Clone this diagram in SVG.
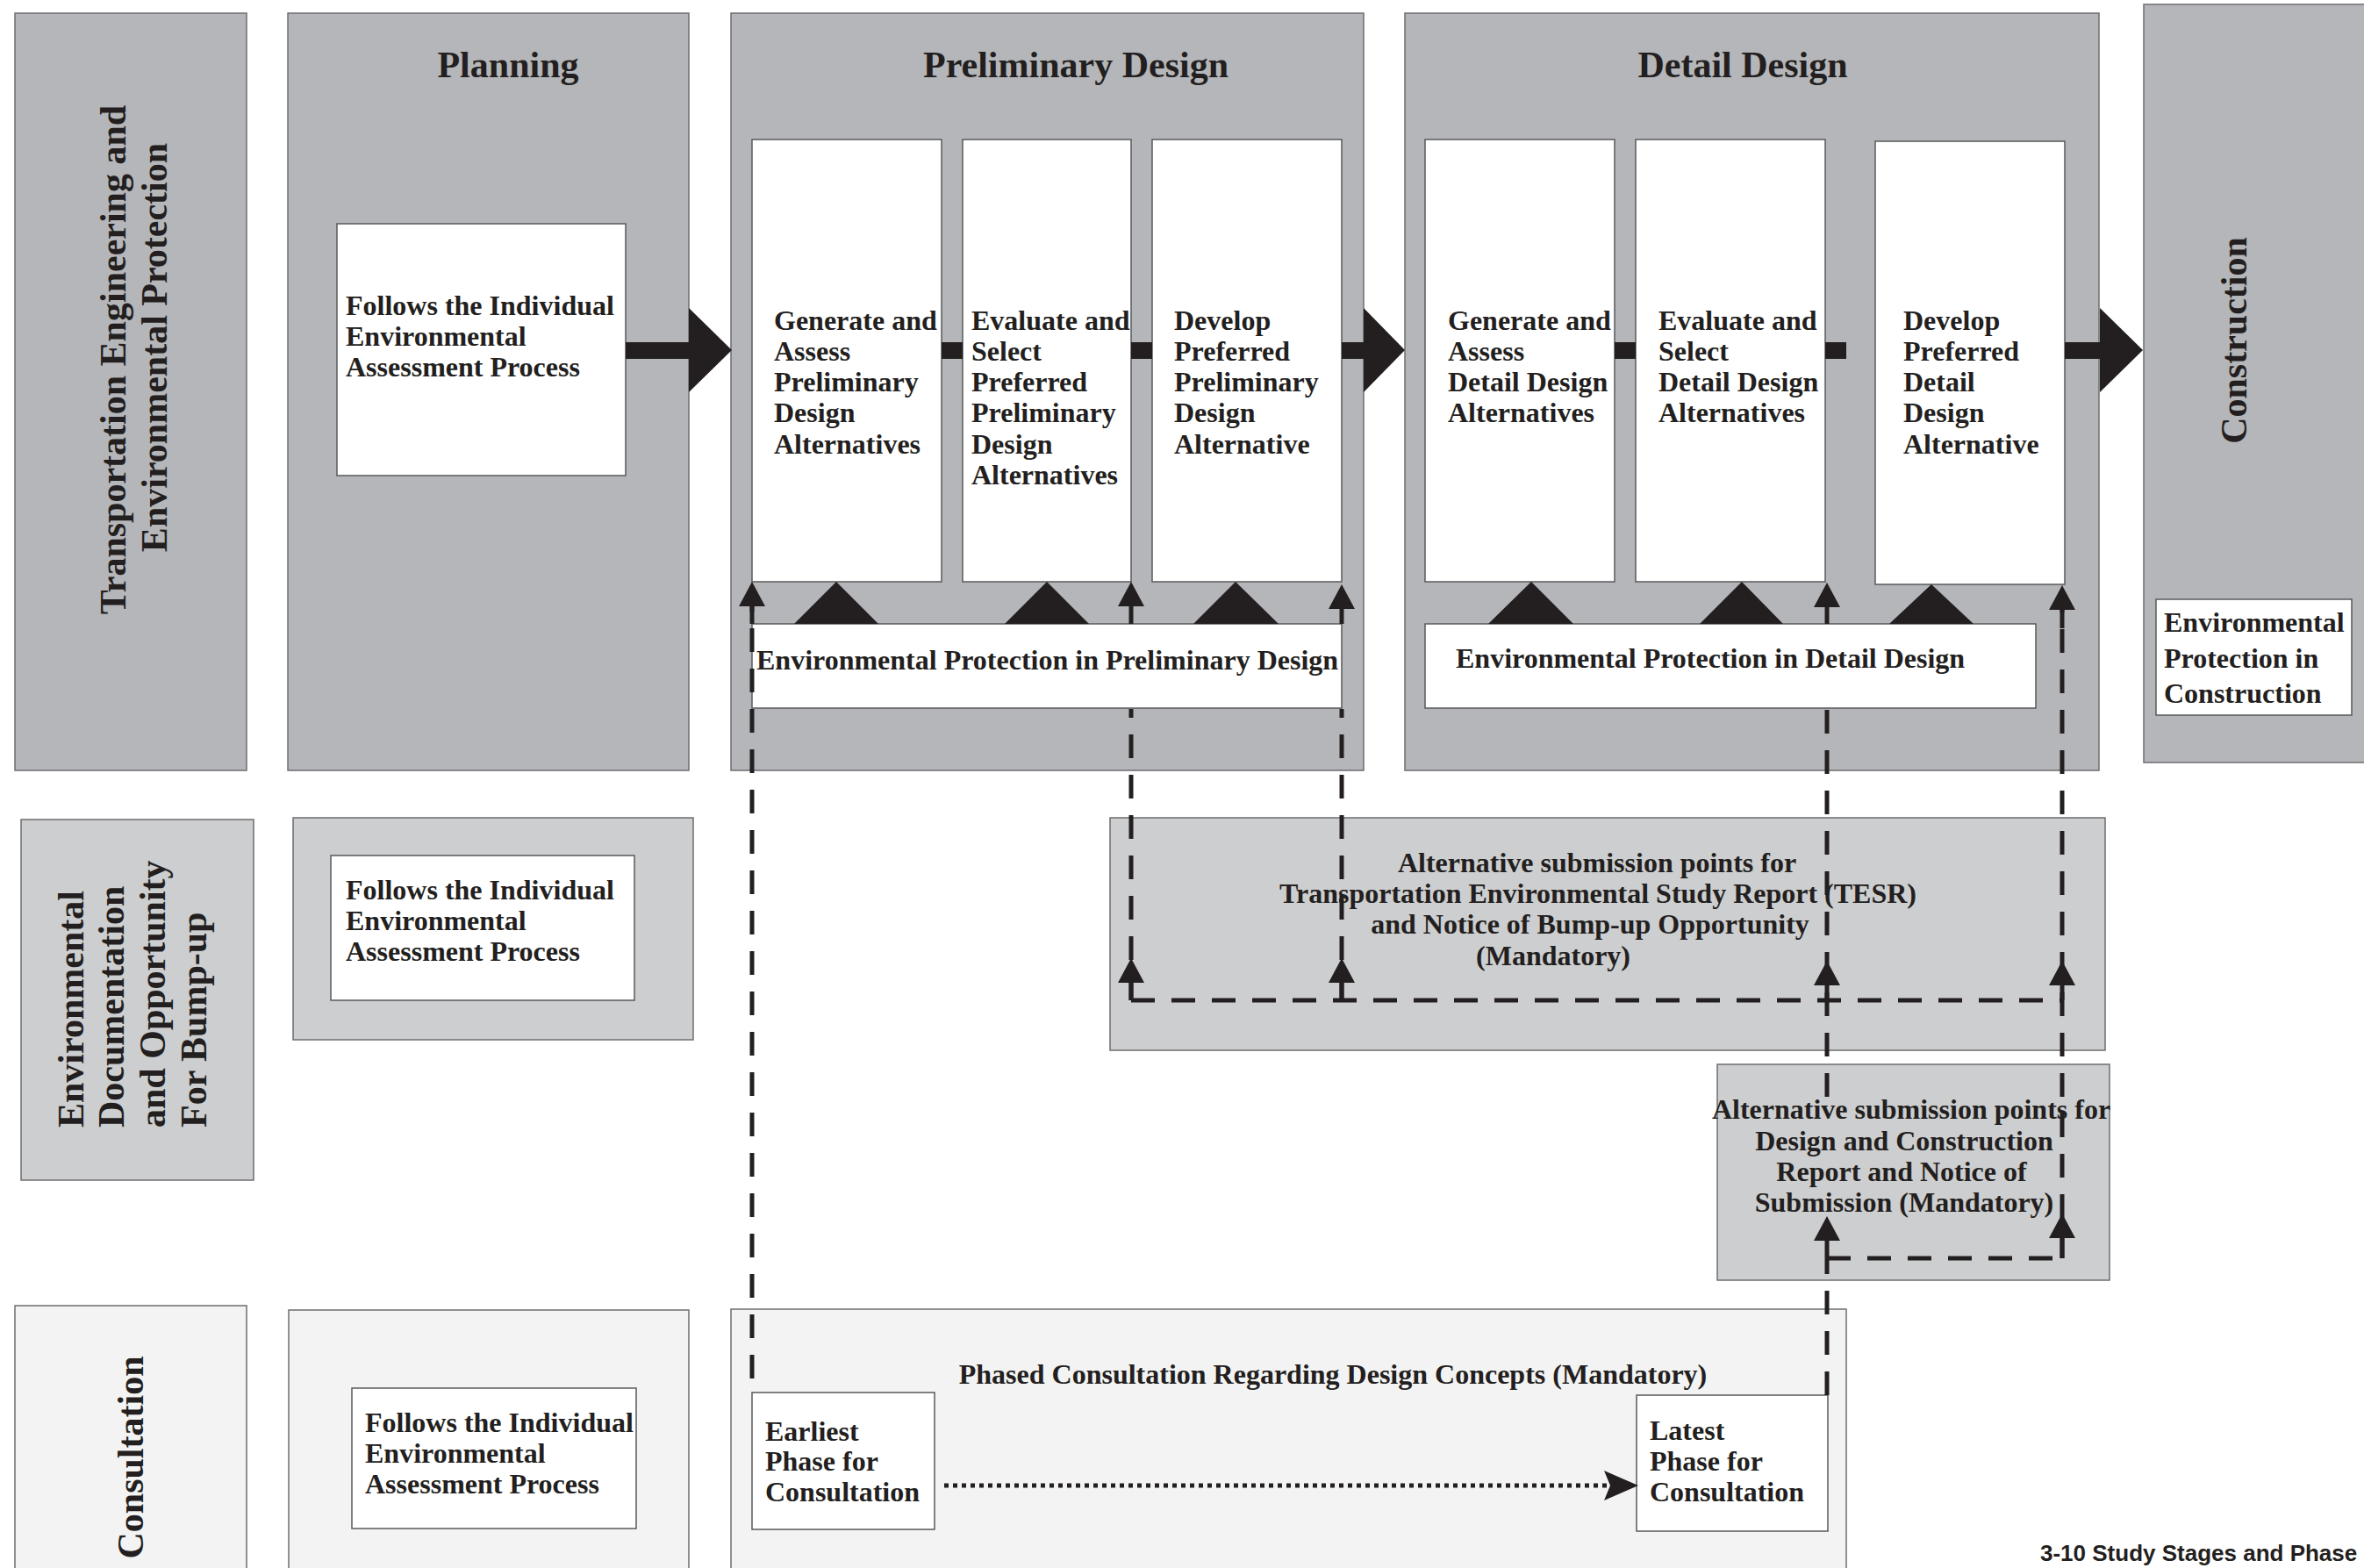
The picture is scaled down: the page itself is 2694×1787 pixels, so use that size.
<svg xmlns="http://www.w3.org/2000/svg" xmlns:xlink="http://www.w3.org/1999/xlink" width="2694" height="1787" viewBox="0 0 2694 1787">
<style>
.pd{fill:#b5b6b9;stroke:#6d6e71;stroke-width:1.5}
.pl{fill:#cdcecf;stroke:#6d6e71;stroke-width:1.5}
.pc{fill:#f3f3f3;stroke:#6d6e71;stroke-width:1.5}
.wb{fill:#ffffff;stroke:#58595b;stroke-width:1.5}
text{font-family:"Liberation Serif","Times New Roman",serif;font-weight:bold;fill:#231f20}
.t32{font-size:32px}
.t42{font-size:42px}
.mid{text-anchor:middle}
.blk{fill:#231f20}
.dash{fill:none;stroke:#231f20;stroke-width:5;stroke-dasharray:27 19}
.solid{fill:none;stroke:#231f20;stroke-width:5}
.dot{fill:none;stroke:#231f20;stroke-width:5;stroke-dasharray:5 5}
.cap{font-family:"Liberation Sans",Arial,sans-serif;font-size:26px;font-weight:bold}
</style>
<defs>
<path id="ah" d="M0,0 L15,28 L-15,28 Z" fill="#231f20"/>
</defs>
<rect width="2694" height="1787" fill="#ffffff"/>

<g id="lane-engineering">
<rect class="pd" x="17" y="15" width="264" height="863"/>
<text class="t42 mid" transform="translate(143,410) rotate(-90)">Transportation Engineering and</text>
<text class="t42 mid" transform="translate(190,396) rotate(-90)">Environmental Protection</text>
</g>

<g id="planning">
<rect class="pd" x="328" y="15" width="457" height="863"/>
<text class="t42 mid" x="579" y="88">Planning</text>
<rect class="wb" x="384" y="255" width="329" height="287"/>
<text class="t32" x="394" y="359">Follows the Individual</text>
<text class="t32" x="394" y="394">Environmental</text>
<text class="t32" x="394" y="429">Assessment Process</text>
</g>

<g id="preliminary-design">
<rect class="pd" x="833" y="15" width="721" height="863"/>
<text class="t42 mid" x="1226" y="88">Preliminary Design</text>
</g>
<g id="pd-generate">
<rect class="wb" x="857" y="159" width="216" height="504"/>
<text class="t32"><tspan x="882" y="376">Generate and</tspan><tspan x="882" y="411">Assess</tspan><tspan x="882" y="446">Preliminary</tspan><tspan x="882" y="481">Design</tspan><tspan x="882" y="517">Alternatives</tspan></text>
</g>
<g id="pd-evaluate">
<rect class="wb" x="1097" y="159" width="192" height="504"/>
<text class="t32"><tspan x="1107" y="376">Evaluate and</tspan><tspan x="1107" y="411">Select</tspan><tspan x="1107" y="446">Preferred</tspan><tspan x="1107" y="481">Preliminary</tspan><tspan x="1107" y="517">Design</tspan><tspan x="1107" y="552">Alternatives</tspan></text>
</g>
<g id="pd-develop">
<rect class="wb" x="1313" y="159" width="216" height="504"/>
<text class="t32"><tspan x="1338" y="376">Develop</tspan><tspan x="1338" y="411">Preferred</tspan><tspan x="1338" y="446">Preliminary</tspan><tspan x="1338" y="481">Design</tspan><tspan x="1338" y="517">Alternative</tspan></text>
</g>

<g id="detail-design">
<rect class="pd" x="1601" y="15" width="791" height="863"/>
<text class="t42 mid" x="1986" y="88">Detail Design</text>
</g>
<g id="dd-generate">
<rect class="wb" x="1624" y="159" width="216" height="504"/>
<text class="t32"><tspan x="1650" y="376">Generate and</tspan><tspan x="1650" y="411">Assess</tspan><tspan x="1650" y="446">Detail Design</tspan><tspan x="1650" y="481">Alternatives</tspan></text>
</g>
<g id="dd-evaluate">
<rect class="wb" x="1864" y="159" width="216" height="504"/>
<text class="t32"><tspan x="1890" y="376">Evaluate and</tspan><tspan x="1890" y="411">Select</tspan><tspan x="1890" y="446">Detail Design</tspan><tspan x="1890" y="481">Alternatives</tspan></text>
</g>
<g id="dd-develop">
<rect class="wb" x="2137" y="161" width="216" height="505"/>
<text class="t32"><tspan x="2169" y="376">Develop</tspan><tspan x="2169" y="411">Preferred</tspan><tspan x="2169" y="446">Detail</tspan><tspan x="2169" y="481">Design</tspan><tspan x="2169" y="517">Alternative</tspan></text>
</g>

<g id="construction">
<rect class="pd" x="2443" y="5" width="260" height="864"/>
<text class="t42 mid" transform="translate(2560,388) rotate(-90)">Construction</text>
</g>
<g id="env-construction">
<rect class="wb" x="2457" y="683" width="223" height="132"/>
<text class="t32"><tspan x="2466" y="720">Environmental</tspan><tspan x="2466" y="761">Protection in</tspan><tspan x="2466" y="801">Construction</tspan></text>
</g>

<g id="lane-documentation">
<rect class="pl" x="24" y="934" width="265" height="411"/>
<text class="t42" transform="translate(95,1285) rotate(-90)">Environmental</text>
<text class="t42" transform="translate(141,1285) rotate(-90)">Documentation</text>
<text class="t42" transform="translate(188,1285) rotate(-90)">and Opportunity</text>
<text class="t42" transform="translate(235,1285) rotate(-90)">For Bump-up</text>
</g>

<g id="planning-documentation">
<rect class="pl" x="334" y="932" width="456" height="253"/>
<rect class="wb" x="377" y="975" width="346" height="165"/>
<text class="t32"><tspan x="394" y="1025">Follows the Individual</tspan><tspan x="394" y="1060">Environmental</tspan><tspan x="394" y="1095">Assessment Process</tspan></text>
</g>

<g id="tesr">
<rect class="pl" x="1265" y="932" width="1134" height="265"/>
<text class="t32 mid"><tspan x="1820" y="994">Alternative submission points for</tspan><tspan x="1821" y="1029">Transportation Environmental Study Report (TESR)</tspan><tspan x="1812" y="1064">and Notice of Bump-up Opportunity</tspan><tspan x="1770" y="1100">(Mandatory)</tspan></text>
</g>

<g id="dcr">
<rect class="pl" x="1957" y="1213" width="447" height="246"/>
<text class="t32 mid"><tspan x="2178" y="1275">Alternative submission points for</tspan><tspan x="2170" y="1311">Design and Construction</tspan><tspan x="2167" y="1346">Report and Notice of</tspan><tspan x="2170" y="1381">Submission (Mandatory)</tspan></text>
</g>

<g id="lane-consultation">
<rect class="pc" x="17" y="1488" width="264" height="310"/>
<text class="t42 mid" transform="translate(163,1661) rotate(-90)">Consultation</text>
</g>

<g id="planning-consultation">
<rect class="pc" x="329" y="1493" width="456" height="305"/>
<rect class="wb" x="401" y="1582" width="324" height="160"/>
<text class="t32"><tspan x="416" y="1632">Follows the Individual</tspan><tspan x="416" y="1667">Environmental</tspan><tspan x="416" y="1702">Assessment Process</tspan></text>
</g>

<g id="phased-consultation">
<rect class="pc" x="833" y="1492" width="1271" height="306"/>
<text class="t32 mid" x="1519" y="1577">Phased Consultation Regarding Design Concepts (Mandatory)</text>
</g>
<g id="earliest">
<rect class="wb" x="857" y="1587" width="208" height="156"/>
<text class="t32"><tspan x="872" y="1642">Earliest</tspan><tspan x="872" y="1676">Phase for</tspan><tspan x="872" y="1711">Consultation</tspan></text>
</g>
<g id="latest">
<rect class="wb" x="1865" y="1590" width="218" height="155"/>
<text class="t32"><tspan x="1880" y="1641">Latest</tspan><tspan x="1880" y="1676">Phase for</tspan><tspan x="1880" y="1711">Consultation</tspan></text>
</g>

<g id="env-prelim">
<rect class="wb" x="857" y="711" width="672" height="96"/>
<text class="t32" x="862" y="763">Environmental Protection in Preliminary Design</text>
</g>
<g id="env-detail">
<rect class="wb" x="1624" y="711" width="696" height="96"/>
<text class="t32" x="1659" y="761">Environmental Protection in Detail Design</text>
</g>

<g id="connectors">
<!-- main flow arrows -->
<rect class="blk" x="713" y="390" width="72" height="19"/>
<polygon class="blk" points="785,351 834,399 785,447"/>
<rect class="blk" x="1073" y="390" width="24" height="19"/>
<rect class="blk" x="1289" y="390" width="24" height="19"/>
<rect class="blk" x="1529" y="390" width="25" height="19"/>
<polygon class="blk" points="1554,351 1601,399 1554,447"/>
<rect class="blk" x="1840" y="390" width="24" height="19"/>
<rect class="blk" x="2080" y="390" width="24" height="19"/>
<rect class="blk" x="2353" y="390" width="40" height="19"/>
<polygon class="blk" points="2393,351 2442,399 2393,447"/>
<!-- environmental protection triangles -->
<polygon class="blk" points="905,711 953,663 1001,711"/>
<polygon class="blk" points="1145,711 1193,663 1241,711"/>
<polygon class="blk" points="1360,711 1408,663 1457,711"/>
<polygon class="blk" points="1696,711 1745,663 1793,711"/>
<polygon class="blk" points="1937,711 1985,663 2032,711"/>
<polygon class="blk" points="2153,711 2201,666 2249,711"/>
<!-- dashed submission lines -->
<path class="dash" d="M857,1571 V690"/>
<path class="solid" d="M857,690 V711"/>
<path class="dash" d="M1289,1140 V808"/>
<path class="solid" d="M1289,690 V711 M1289,1118 V1140"/>
<path class="dash" d="M1529,1140 V808"/>
<path class="solid" d="M1529,693 V711 M1529,1118 V1140"/>
<path class="dash" d="M2082,1590 V1434"/>
<path class="dash" d="M2082,1250 V808"/>
<path class="solid" d="M2082,690 V711 M2082,1121 V1140 M2082,1412 V1434"/>
<path class="dash" d="M2350,1434 V694"/>
<path class="solid" d="M2350,694 V716 M2350,1121 V1140 M2350,1409 V1434"/>
<path class="dash" d="M1289,1140 H2350"/>
<path class="dash" d="M2082,1434 H2350"/>
<use xlink:href="#ah" x="857" y="663"/>
<use xlink:href="#ah" x="1289" y="663"/>
<use xlink:href="#ah" x="1529" y="666"/>
<use xlink:href="#ah" x="2082" y="664"/>
<use xlink:href="#ah" x="2350" y="667"/>
<use xlink:href="#ah" x="1289" y="1092"/>
<use xlink:href="#ah" x="1529" y="1092"/>
<use xlink:href="#ah" x="2082" y="1095"/>
<use xlink:href="#ah" x="2350" y="1095"/>
<use xlink:href="#ah" x="2082" y="1386"/>
<use xlink:href="#ah" x="2350" y="1383"/>
<!-- dotted consultation arrow -->
<path class="dot" d="M1076,1693 H1832"/>
<polygon class="blk" points="1867,1693 1828,1676 1835,1693 1828,1710"/>
</g>

<text class="cap" x="2325" y="1779">3-10 Study Stages and Phase</text>
</svg>
